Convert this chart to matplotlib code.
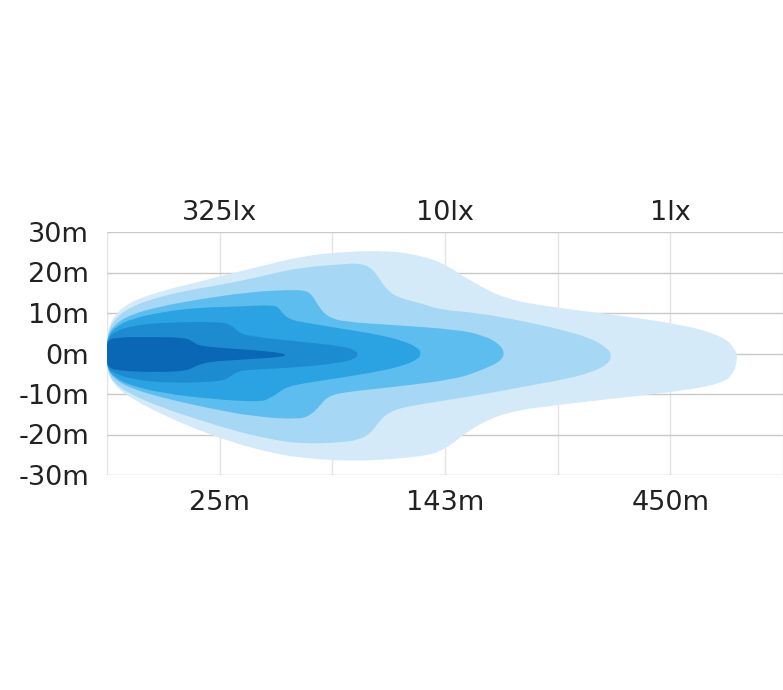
import numpy as np
import matplotlib
matplotlib.use("Agg")
import matplotlib.pyplot as plt
from matplotlib.path import Path
from matplotlib.patches import PathPatch

# axis labels
y_ticks = [30, 20, 10, 0, -10, -20, -30]
y_labels = ['30m', '20m', '10m', '0m', '-10m', '-20m', '-30m']
dist_pos = [1, 3, 5]
dist_labels = ['25m', '143m', '450m']
lux_labels = ['325lx', '10lx', '1lx']

# beam zones, outer (dim) to inner (bright); x in grid columns, y in metres
zone1_x = [0, 0, 0.05, 0.20, 0.53, 0.82, 1.12, 1.42, 1.71, 2.07, 2.51, 2.80, 3.00, 3.25, 3.55, 3.99,
           4.58, 5.17, 5.47, 5.57, 5.60, 5.56, 5.47, 5.17, 4.58, 3.99, 3.55, 3.25, 3.00, 2.80, 2.22,
           1.71, 1.42, 1.12, 0.82, 0.53, 0.23, 0.06, 0]
zone1_y = [0, 4.5, 9.0, 12.8, 15.8, 17.7, 19.9, 21.9, 23.9, 25.1, 25.4, 24.1, 22.1, 17.5, 13.3, 11.3,
           9.3, 6.8, 4.1, 1.4, -1.1, -5.0, -7.2, -9.0, -10.9, -12.7, -14.4, -18.1, -23.8, -25.5, -26.7,
           -25.8, -24.3, -22.0, -19.0, -15.6, -11.4, -7.8, -4.0]

zone2_x = [0, 0, 0.05, 0.20, 0.50, 0.82, 1.12, 1.42, 1.71, 2.07, 2.22, 2.33, 2.40, 2.46, 2.56, 2.80,
           2.95, 3.30, 3.69, 4.02, 4.29, 4.44, 4.48, 4.45, 4.29, 4.02, 3.69, 3.40, 2.95, 2.64, 2.51,
           2.42, 2.35, 2.24, 2.07, 1.71, 1.42, 1.12, 0.82, 0.50, 0.20, 0.05, 0]
zone2_y = [0, 4.3, 8.0, 11.5, 14.3, 16.1, 17.5, 19.4, 21.2, 22.0, 22.3, 21.5, 19.3, 16.5, 14.0, 12.3,
           10.8, 10.0, 8.0, 6.0, 3.8, 1.4, -0.5, -2.6, -4.8, -6.6, -8.2, -9.8, -11.8, -13.2, -14.4,
           -16.5, -19.5, -21.3, -22.0, -22.3, -21.0, -19.0, -16.4, -13.5, -10.0, -7.0, -3.8]

zone3_x = [0, 0, 0.06, 0.20, 0.45, 0.82, 1.27, 1.62, 1.76, 1.82, 1.88, 1.96, 2.11, 2.51, 3.11, 3.35,
           3.49, 3.53, 3.49, 3.35, 3.11, 2.51, 2.11, 1.96, 1.90, 1.82, 1.71, 1.31, 0.90, 0.50, 0.20,
           0.06, 0]
zone3_y = [0, 4.0, 7.0, 9.5, 11.5, 13.4, 15.2, 15.7, 15.6, 14.5, 11.5, 9.0, 7.8, 7.1, 5.9, 4.4,
           2.2, 0.0, -2.0, -3.8, -6.3, -8.4, -9.5, -10.6, -12.5, -15.0, -16.3, -15.6, -13.5, -11.0, -8.5,
           -6.2, -3.6]

zone4_x = [0, 0, 0.07, 0.22, 0.50, 0.80, 1.16, 1.49, 1.53, 1.58, 1.65, 1.76, 2.07, 2.42, 2.64, 2.76,
           2.79, 2.76, 2.64, 2.42, 2.07, 1.76, 1.60, 1.53, 1.45, 1.36, 0.90, 0.50, 0.22, 0.07, 0]
zone4_y = [0, 3.8, 6.5, 8.6, 10.3, 11.3, 11.6, 12.0, 11.0, 9.2, 8.2, 7.6, 6.2, 4.6, 3.0, 1.4,
           0.0, -1.4, -2.9, -4.4, -6.0, -7.3, -8.2, -9.5, -11.0, -12.0, -11.2, -9.8, -8.0, -6.0, -3.6]

zone5_x = [0, 0, 0.08, 0.25, 0.55, 1.00, 1.10, 1.16, 1.25, 1.71, 2.07, 2.20, 2.23, 2.20, 2.07, 1.71,
           1.27, 1.16, 1.09, 1.00, 0.55, 0.25, 0.07, 0]
zone5_y = [0, 3.6, 5.6, 7.0, 7.7, 7.8, 7.1, 5.4, 4.3, 2.9, 1.9, 0.9, -0.3, -1.3, -2.3, -3.4,
           -4.0, -4.4, -5.8, -7.0, -7.3, -6.5, -5.0, -3.5]

zone6_x = [0, 0, 0.08, 0.40, 0.70, 0.76, 0.83, 1.10, 1.36, 1.53, 1.60, 1.53, 1.36, 1.10, 0.92, 0.80,
           0.70, 0.40, 0.10, 0]
zone6_y = [0, 3.2, 4.0, 4.1, 3.9, 2.9, 1.8, 1.2, 0.7, 0.2, -0.4, -0.9, -1.2, -1.7, -2.0, -2.9,
           -4.4, -4.6, -4.3, -3.3]

zones = [(zone1_x, zone1_y), (zone2_x, zone2_y), (zone3_x, zone3_y),
         (zone4_x, zone4_y), (zone5_x, zone5_y), (zone6_x, zone6_y)]
zone_colors = ['#d4eaf8', '#a6d7f4', '#5dbdee', '#2ba2e1', '#1c8bd0', '#0a67b5']


def smooth_path(xs, ys):
    # closed quadratic b-spline through the outline points
    pts = np.column_stack([xs, ys])
    mids = (pts + np.roll(pts, -1, axis=0)) / 2
    verts = [mids[-1]]
    codes = [Path.MOVETO]
    for p, m in zip(pts, mids):
        verts += [p, m]
        codes += [Path.CURVE3, Path.CURVE3]
    verts.append(mids[-1])
    codes.append(Path.CLOSEPOLY)
    return Path(verts, codes)


fig = plt.figure(figsize=(7.83, 6.90), dpi=100)
ax = fig.add_axes([107 / 783, 215 / 690, 676 / 783, 243 / 690])

for (xs, ys), col in zip(zones, zone_colors):
    ax.add_patch(PathPatch(smooth_path(xs, ys), facecolor=col, edgecolor='none', zorder=2))

fs = 19.5
ax.set_xlim(0, 6)
ax.set_ylim(-30, 30)
ax.set_yticks(y_ticks)
ax.set_yticklabels(y_labels, fontsize=fs, color='#222222')
ax.set_xticks(dist_pos)
ax.set_xticklabels([])
ax.set_xticks(range(0, 7), minor=True)
ax.tick_params(length=0, which='both')
ax.tick_params(axis='y', pad=13)
ax.grid(axis='y', color='#c9c9c9', lw=1, zorder=0)
ax.grid(axis='x', which='both', color='#e4e4e4', lw=1, zorder=0)
ax.set_axisbelow(True)
for s in ax.spines.values():
    s.set_visible(False)

for xp, lab in zip(dist_pos, dist_labels):
    ax.text(xp, -0.144, lab, transform=ax.get_xaxis_transform(), ha='center', va='baseline',
            fontsize=fs, color='#222222')
for xp, lab in zip(dist_pos, lux_labels):
    ax.text(xp, 1.049, lab, transform=ax.get_xaxis_transform(), ha='center', va='baseline',
            fontsize=fs, color='#222222')

fig.savefig('out.png', dpi=100)
